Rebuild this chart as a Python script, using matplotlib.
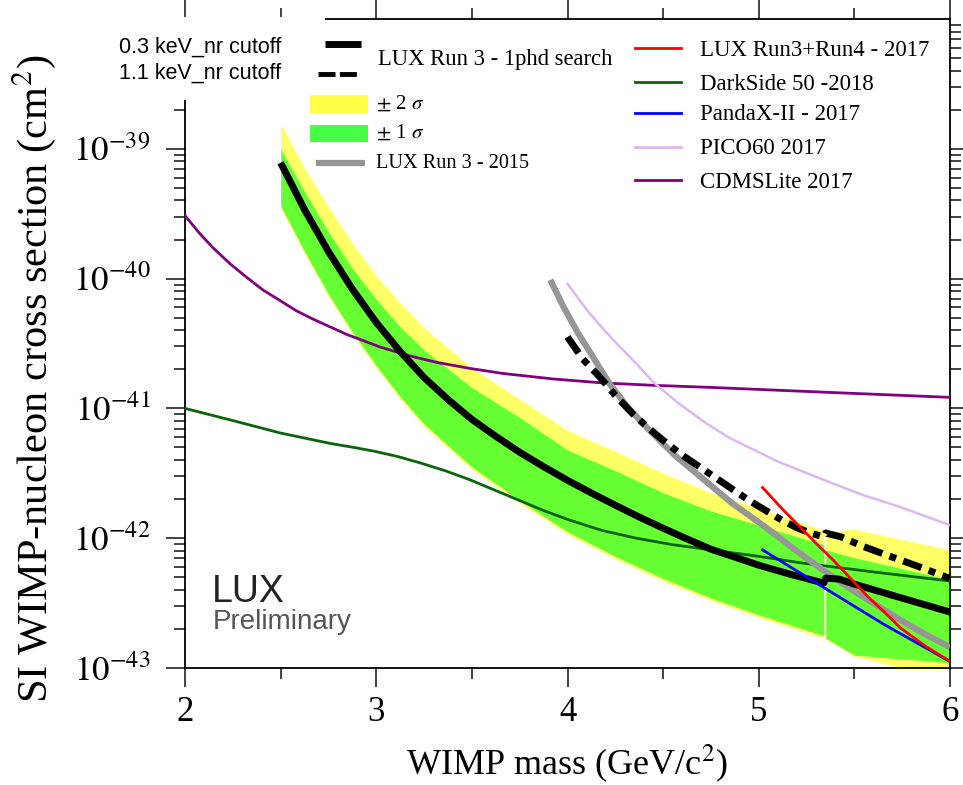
import numpy as np
import matplotlib
matplotlib.use("Agg")
import matplotlib.pyplot as plt
from matplotlib.lines import Line2D
from matplotlib.patches import Rectangle
from matplotlib.ticker import FixedLocator, LogLocator, NullFormatter

plt.rcParams['font.family'] = 'serif'
plt.rcParams['font.serif'] = ['Liberation Serif', 'DejaVu Serif']
plt.rcParams['mathtext.fontset'] = 'stix'

# ---- limits (log10 of cross section in cm^2 vs WIMP mass in GeV) ----
# LUX Run 3 - 1phd search, 0.3 keV_nr cutoff, with +-1/2 sigma bands
band1_m = [2.5, 2.625, 2.75, 2.875, 3.0, 3.125, 3.25, 3.5, 3.75, 4.0, 4.25, 4.5, 4.75, 5.0, 5.34]
band1_y2_hi = [-38.81, -39.15, -39.45, -39.73, -39.98, -40.19, -40.38, -40.69, -40.93, -41.17,
               -41.33, -41.50, -41.65, -41.77, -41.94]
band1_y1_hi = [-39.00, -39.33, -39.64, -39.92, -40.16, -40.37, -40.55, -40.84, -41.07, -41.32,
               -41.48, -41.65, -41.79, -41.90, -42.05]
band1_y1_lo = [-39.44, -39.79, -40.12, -40.41, -40.67, -40.91, -41.12, -41.45, -41.71, -41.95,
               -42.14, -42.31, -42.46, -42.59, -42.75]
band1_y2_lo = [-39.46, -39.81, -40.14, -40.43, -40.69, -40.93, -41.14, -41.47, -41.73, -41.97,
               -42.16, -42.33, -42.48, -42.61, -42.77]

band2_m = [5.35, 5.5, 6.0]
band2_y2_hi = [-41.95, -41.93, -42.09]
band2_y1_hi = [-42.09, -42.15, -42.32]
band2_y1_lo = [-42.77, -42.90, -42.96]
band2_y2_lo = [-42.78, -42.91, -43.09]

solid_m = [2.5, 2.625, 2.75, 2.875, 3.0, 3.125, 3.25, 3.375, 3.5, 3.625, 3.75, 3.875, 4.0,
           4.125, 4.25, 4.375, 4.5, 4.625, 4.75, 4.875, 5.0, 5.17, 5.34, 5.35, 5.42, 5.5, 5.75, 6.0]
solid_y = [-39.108, -39.469, -39.792, -40.081, -40.338, -40.562, -40.762, -40.931, -41.085,
           -41.215, -41.338, -41.449, -41.554, -41.652, -41.746, -41.837, -41.923, -42.006,
           -42.085, -42.146, -42.208, -42.280, -42.346, -42.308, -42.315, -42.354, -42.462, -42.569]

# 1.1 keV_nr cutoff
dashdot_m = [4.0, 4.08, 4.17, 4.25, 4.34, 4.43, 4.52, 4.6, 4.69, 4.78, 4.87, 4.95, 5.04,
             5.12, 5.2, 5.27, 5.34, 5.35, 5.43, 5.54, 5.65, 5.82, 6.0]
dashdot_y = [-40.45, -40.62, -40.76, -40.90, -41.04, -41.16, -41.27, -41.36, -41.45, -41.54,
             -41.63, -41.71, -41.79, -41.86, -41.92, -41.96, -41.99, -41.96, -41.99, -42.06,
             -42.12, -42.21, -42.31]

lux2015_m = [3.91, 3.98, 4.055, 4.14, 4.22, 4.32, 4.43, 4.56, 4.69, 4.86, 5.04, 5.19, 5.34,
             5.49, 5.62, 5.74, 5.87, 6.0]
lux2015_y = [-40.01, -40.22, -40.42, -40.62, -40.81, -41.00, -41.17, -41.36, -41.52, -41.73,
             -41.92, -42.09, -42.25, -42.40, -42.52, -42.63, -42.74, -42.84]

luxr34_m = [5.02, 5.12, 5.22, 5.3, 5.39, 5.48, 5.57, 5.65, 5.74, 5.87, 6.0]
luxr34_y = [-41.61, -41.77, -41.92, -42.04, -42.17, -42.31, -42.45, -42.56, -42.69, -42.83, -42.95]

darkside_m = [2.0, 2.12, 2.24, 2.37, 2.5, 2.63, 2.76, 2.88, 2.99, 3.11, 3.23, 3.36, 3.49,
              3.62, 3.75, 3.88, 4.01, 4.18, 4.36, 4.55, 4.75, 5.0, 5.22, 5.6, 6.0]
darkside_y = [-41.0, -41.045, -41.09, -41.14, -41.19, -41.23, -41.27, -41.30, -41.33, -41.37,
              -41.42, -41.48, -41.55, -41.63, -41.71, -41.79, -41.86, -41.94, -42.0, -42.05,
              -42.09, -42.14, -42.19, -42.26, -42.33]

pandax_m = [5.02, 5.34, 5.65, 6.0]
pandax_y = [-42.09, -42.38, -42.66, -42.95]

pico_m = [4.0, 4.05, 4.1, 4.17, 4.25, 4.35, 4.45, 4.58, 4.72, 4.85, 4.99, 5.1, 5.22, 5.39,
          5.55, 5.74, 6.0]
pico_y = [-40.04, -40.14, -40.24, -40.36, -40.49, -40.64, -40.80, -40.96, -41.11, -41.23,
          -41.33, -41.41, -41.48, -41.58, -41.67, -41.76, -41.90]

cdms_m = [2.0, 2.073, 2.146, 2.235, 2.324, 2.408, 2.497, 2.58, 2.669, 2.847, 3.02, 3.176,
          3.318, 3.49, 3.663, 3.924, 4.186, 4.463, 4.745, 5.373, 6.0]
cdms_y = [-39.515, -39.646, -39.762, -39.885, -39.992, -40.088, -40.169, -40.246, -40.312,
          -40.431, -40.527, -40.596, -40.646, -40.692, -40.731, -40.773, -40.804, -40.823,
          -40.838, -40.877, -40.915]

W, H = 963, 785


def fx(px):
    return px / W


def fy(py):
    return 1 - py / H


def e(v):
    return np.power(10.0, np.asarray(v, dtype=float))


fig = plt.figure(figsize=(W / 100, H / 100), dpi=100)
ax = fig.add_axes([fx(185), fy(668), fx(950) - fx(185), fy(19) - fy(668)])
ax.set_yscale('log')
ax.set_xlim(2, 6)
ax.set_ylim(1e-43, 1e-38)

YEL = '#ffff66'
GRN = '#66ff33'

for m, y2h, y1h, y1l, y2l in [(band1_m, band1_y2_hi, band1_y1_hi, band1_y1_lo, band1_y2_lo),
                              (band2_m, band2_y2_hi, band2_y1_hi, band2_y1_lo, band2_y2_lo)]:
    ax.fill_between(m, e(y2l), e(y2h), color=YEL, lw=0, zorder=1)
    ax.fill_between(m, e(y1l), e(y1h), color=GRN, lw=0, zorder=2)

ax.plot(cdms_m, e(cdms_y), color='#800080', lw=2.0, zorder=3)
ax.plot(darkside_m, e(darkside_y), color='#0a640a', lw=2.0, zorder=3)
ax.plot(pico_m, e(pico_y), color='#dcb8f2', lw=1.8, zorder=3)
ax.plot(lux2015_m, e(lux2015_y), color='#969696', lw=4.5, solid_capstyle='butt', zorder=4)
ax.plot(solid_m, e(solid_y), color='black', lw=5, solid_capstyle='butt', zorder=5)
ax.plot(dashdot_m, e(dashdot_y), color='black', lw=5, dash_capstyle='butt',
        linestyle=(0, (2.8, 1.1, 1.0, 1.1)), zorder=5)
ax.plot(pandax_m, e(pandax_y), color='#0000ff', lw=2.0, zorder=6)
ax.plot(luxr34_m, e(luxr34_y), color='#ff0000', lw=2.0, zorder=6)

# axes styling
for s in ax.spines.values():
    s.set_linewidth(1.3)
ax.xaxis.set_major_locator(FixedLocator([2, 3, 4, 5, 6]))
ax.xaxis.set_minor_locator(FixedLocator([2.5, 3.5, 4.5, 5.5]))
ax.set_yticks([1e-43, 1e-42, 1e-41, 1e-40, 1e-39])
ax.set_yticklabels([r'$10^{-43}$', r'$10^{-42}$', r'$10^{-41}$', r'$10^{-40}$', r'$10^{-39}$'])
ax.yaxis.set_minor_locator(LogLocator(base=10, subs=np.arange(2, 10), numticks=20))
ax.yaxis.set_minor_formatter(NullFormatter())
ax.tick_params(which='both', direction='out', top=True, right=True, width=1.2, color='#222222')
ax.tick_params(which='major', length=14)
ax.tick_params(which='minor', length=8)
ax.tick_params(axis='x', labelsize=25, pad=6)
ax.tick_params(axis='y', labelsize=25, pad=11)

ax.set_xlabel(r'WIMP mass (GeV/c$^2$)', fontsize=26, labelpad=10)
ax.set_ylabel(r'SI WIMP-nucleon cross section (cm$^2$)', fontsize=30.5)
ax.yaxis.set_label_coords(-0.166, 0.445)

# LUX Preliminary tag
fig.text(fx(212), fy(592), 'LUX', family='Liberation Sans', fontsize=27, color='#222222', va='center')
fig.text(fx(213), fy(622), 'Preliminary', family='Liberation Sans', fontsize=20, color='#555555', va='center')

# white box behind the cutoff legend hides the top-left of the frame
fig.add_artist(Rectangle((fx(90), fy(100)), fx(325) - fx(90), fy(17) - fy(100), transform=fig.transFigure,
                         facecolor='white', edgecolor='none', zorder=10))


def leg_line(x0, x1, y, **kw):
    fig.add_artist(Line2D([fx(x0), fx(x1)], [fy(y), fy(y)], transform=fig.transFigure, zorder=11, **kw))


def leg_rect(x0, x1, y0, y1, color):
    fig.add_artist(Rectangle((fx(x0), fy(y1)), fx(x1) - fx(x0), fy(y0) - fy(y1),
                             transform=fig.transFigure, facecolor=color, edgecolor='none', zorder=11))


def leg_text(x, y, s, size=16, **kw):
    fig.text(fx(x), fy(y), s, fontsize=size, va='center', ha=kw.pop('ha', 'left'), zorder=12, **kw)


leg_text(281, 47, '0.3 keV_nr cutoff', size=15.5, ha='right', family='Liberation Sans')
leg_text(281, 73, '1.1 keV_nr cutoff', size=15.5, ha='right', family='Liberation Sans')
leg_line(325, 361, 44, color='black', lw=5, solid_capstyle='butt')
leg_line(318, 361, 74, color='black', lw=3.5, dash_capstyle='butt', linestyle=(0, (3.5, 0.9, 3.5, 1.4, 1.0, 1.4)))
leg_text(378, 60, 'LUX Run 3 - 1phd search', size=16.3)

leg_rect(310, 368, 95, 113, '#ffff44')
leg_text(376, 104, r'$\pm$ 2 $\sigma$', size=15)
leg_rect(310, 368, 125, 142, '#44ff44')
leg_text(376, 133, r'$\pm$ 1 $\sigma$', size=15)
leg_line(316, 365, 163, color='#969696', lw=4.5, solid_capstyle='butt')
leg_text(376, 163, 'LUX Run 3 - 2015', size=14.6)

right_items = [('LUX Run3+Run4 - 2017', '#ff0000', 48),
               ('DarkSide 50 -2018', '#0a640a', 82),
               ('PandaX-II - 2017', '#0000ff', 113),
               ('PICO60 2017', '#dcb8f2', 147),
               ('CDMSLite 2017', '#800080', 180)]
for label, col, y in right_items:
    leg_line(635, 681, y, color=col, lw=2.0)
    leg_text(700, y + 2, label, size=16.5)

fig.savefig('out.png', dpi=100)
